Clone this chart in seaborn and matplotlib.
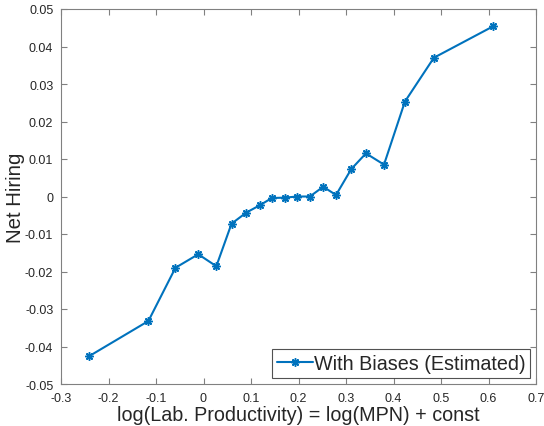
import matplotlib
matplotlib.use("Agg")
import matplotlib.pyplot as plt
import seaborn as sns
import pandas as pd

log_productivity = [-0.241, -0.116, -0.059, -0.011, 0.027, 0.059, 0.090, 0.119, 0.144, 0.172,
                    0.197, 0.224, 0.252, 0.279, 0.311, 0.342, 0.380, 0.424, 0.485, 0.610]
net_hiring = [-0.0426, -0.0332, -0.0190, -0.0154, -0.0186, -0.00725, -0.0043, -0.0023, -0.0004, -0.0003,
              0.0000, 0.0000, 0.0026, 0.0004, 0.0073, 0.0115, 0.0085, 0.0253, 0.0370, 0.0454]
series_label = "With Biases (Estimated)"
x_ticks = [-0.3, -0.2, -0.1, 0, 0.1, 0.2, 0.3, 0.4, 0.5, 0.6, 0.7]
y_ticks = [-0.05, -0.04, -0.03, -0.02, -0.01, 0, 0.01, 0.02, 0.03, 0.04, 0.05]

df = pd.DataFrame({"x": log_productivity, "y": net_hiring})

sns.set_style("white")
plt.rcParams["font.family"] = ["Liberation Sans", "DejaVu Sans"]

fig = plt.figure(figsize=(5.44, 4.27), dpi=100)
ax = fig.add_axes([61/544, 42/427, 475/544, 375/427])

sns.lineplot(data=df, x="x", y="y", ax=ax, sort=False, estimator=None,
             color="#0072BD", linewidth=1.5, marker=(8, 2, 0), markersize=6,
             markeredgecolor="#0072BD", markeredgewidth=1.1, label=series_label)

ax.set_xlim(-0.3, 0.7)
ax.set_ylim(-0.05, 0.05)
ax.set_xticks(x_ticks)
ax.set_yticks(y_ticks)
ax.set_xticklabels([f"{t:g}" for t in x_ticks])
ax.set_yticklabels([f"{t:g}" for t in y_ticks])
ax.tick_params(direction="in", length=4, width=0.8, color="#808080", labelsize=9,
               top=True, right=True, bottom=True, left=True, labelcolor="#262626")
ax.tick_params(axis="x", pad=5.5)
ax.tick_params(axis="y", pad=5.5)
for s in ax.spines.values():
    s.set_color("#808080")
    s.set_linewidth(0.8)
    s.set_visible(True)

ax.set_xlabel("log(Lab. Productivity) = log(MPN) + const", fontsize=14.2, color="#262626", labelpad=1)
ax.set_ylabel("Net Hiring", fontsize=14.7, color="#262626")
ax.yaxis.set_label_coords(-0.076, 0.5)

leg = ax.legend(loc="lower right", fontsize=14.2, frameon=True, fancybox=False,
                edgecolor="#262626", borderpad=0.25, handlelength=1.8, handletextpad=0.05,
                borderaxespad=0.3)
leg.get_frame().set_linewidth(0.8)

fig.savefig("out.png", dpi=100)
